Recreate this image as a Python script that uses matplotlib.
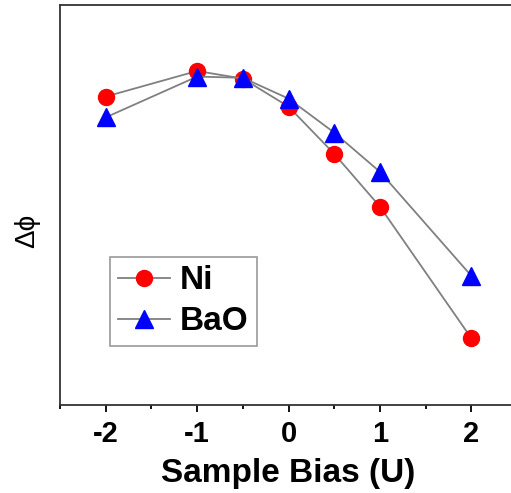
import numpy as np
import matplotlib.pyplot as plt
from matplotlib.ticker import MultipleLocator

plt.rcParams['font.family'] = ['Liberation Sans', 'DejaVu Sans']
plt.rcParams['axes.unicode_minus'] = False

# data (arbitrary units, y axis carries no ticks)
bias = [-2, -1, -0.5, 0, 0.5, 1, 2]
ni = [7.71, 8.35, 8.16, 7.46, 6.28, 4.96, 1.67]
bao = [7.19, 8.21, 8.18, 7.66, 6.81, 5.83, 3.23]

fig = plt.figure(figsize=(5.11, 4.93), dpi=100)
ax = fig.add_axes([60/511, 88/493, 457/511, 400/493])

ax.plot(bias, ni, color="#808080", lw=1.3, marker="o", ms=11.5,
        mfc="red", mec="red", label="Ni", zorder=3)
ax.plot(bias, bao, color="#808080", lw=1.3, marker="^", ms=12.5,
        mfc="blue", mec="blue", label="BaO", zorder=3)

ax.set_xlim(-2.5, 2.5)
ax.set_ylim(0, 10)
ax.xaxis.set_major_locator(MultipleLocator(1))
ax.xaxis.set_minor_locator(MultipleLocator(0.5))
ax.set_yticks([])
ax.tick_params(axis="x", which="major", direction="out", length=5, width=1.3,
               labelsize=21, pad=6)
ax.tick_params(axis="x", which="minor", direction="out", length=3, width=1.3)
for lbl in ax.get_xticklabels():
    lbl.set_fontweight("bold")
for s in ax.spines.values():
    s.set_linewidth(1.3)
    s.set_color("#333333")

ax.set_xlabel("Sample Bias (U)", fontsize=24, fontweight="bold", labelpad=7)
ax.set_ylabel("Δϕ", fontsize=20)
ax.yaxis.set_label_coords(-20/457, 174/400)

leg = ax.legend(loc="upper left", bbox_to_anchor=(50/457, 148/400),
                prop={"weight": "bold", "size": 24},
                frameon=True, fancybox=False, edgecolor="#808080",
                handlelength=1.55, handletextpad=0.3, labelspacing=0.3,
                borderpad=0.25, borderaxespad=0)
leg.get_frame().set_linewidth(1.2)

fig.savefig("out.png", dpi=100)
